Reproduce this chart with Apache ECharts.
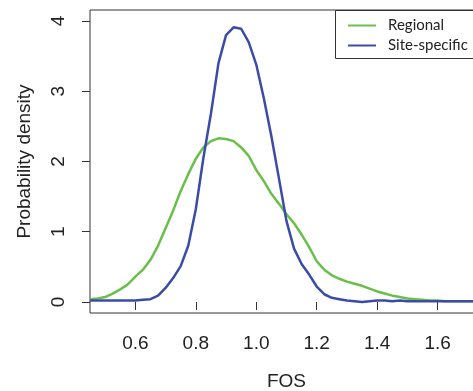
<!DOCTYPE html>
<html>
<head>
<meta charset="utf-8">
<script src="https://cdn.jsdelivr.net/npm/echarts@6/dist/echarts.min.js"></script>
<style>
  html, body { margin: 0; padding: 0; background: #fff; }
  #chart { width: 473px; height: 391px; }
</style>
</head>
<body>
<div id="chart"></div>
<script>
// FOS grid (step 0.025)
const fos = [];
for (let i = 0; i <= 51; i++) fos.push(+(0.45 + i * 0.025).toFixed(3));

const regional = [
  0.04, 0.05, 0.07, 0.12, 0.18, 0.25, 0.36, 0.46, 0.60, 0.80,
  1.05, 1.30, 1.58, 1.82, 2.04, 2.20, 2.29, 2.33, 2.32, 2.29,
  2.20, 2.08, 1.88, 1.72, 1.54, 1.40, 1.25, 1.12, 0.96, 0.78,
  0.58, 0.46, 0.38, 0.33, 0.29, 0.26, 0.23, 0.19, 0.15, 0.12,
  0.09, 0.07, 0.05, 0.04, 0.03, 0.02, 0.02, 0.01, 0.01, 0.01,
  0.01, 0.01
];
const siteSpecific = [
  0.02, 0.02, 0.02, 0.02, 0.02, 0.02, 0.02, 0.03, 0.04, 0.09,
  0.20, 0.34, 0.51, 0.80, 1.32, 2.05, 2.68, 3.40, 3.80, 3.91,
  3.89, 3.70, 3.38, 2.90, 2.36, 1.76, 1.15, 0.76, 0.54, 0.39,
  0.22, 0.11, 0.06, 0.04, 0.02, 0.01, 0.00, 0.01, 0.02, 0.02,
  0.01, 0.02, 0.01, 0.01, 0.01, 0.01, 0.01, 0.01, 0.01, 0.01,
  0.01, 0.01
];
const xTicks = [0.6, 0.8, 1.0, 1.2, 1.4, 1.6];
const yTicks = [0, 1, 2, 3, 4];

const pair = (ys) => fos.map((x, i) => [x, ys[i]]);
const axisFont = { fontFamily: 'Liberation Sans', fontSize: 19, color: '#222' };

const chart = echarts.init(document.getElementById('chart'));
chart.setOption({
  animation: false,
  grid: {
    left: 90, top: 10, bottom: 78, right: -10,
    outerBoundsMode: 'none', containLabel: false,
    show: true, borderColor: '#333', borderWidth: 1
  },
  // legend frame runs off the right edge, as in the cropped original
  graphic: [{
    type: 'rect', left: 335, top: 10, z: 10,
    shape: { width: 200, height: 48 },
    style: { fill: '#fff', stroke: '#333', lineWidth: 1 }
  }],
  legend: {
    left: 335, top: 10, z: 20,
    orient: 'vertical',
    padding: [8, 10, 8, 12],
    itemWidth: 28, itemHeight: 14, itemGap: 5,
    itemStyle: { opacity: 0 },
    textStyle: { fontFamily: 'Lato', fontSize: 15, color: '#222', padding: [0, 0, 0, 7] },
    data: ['Regional', 'Site-specific']
  },
  xAxis: {
    type: 'value',
    min: 0.45, max: 1.75,
    name: 'FOS', nameLocation: 'middle', nameGap: 59,
    nameTextStyle: axisFont,
    axisLine: { show: false },
    splitLine: { show: false },
    axisTick: { show: true, length: 8, lineStyle: { color: '#333' }, customValues: xTicks },
    axisLabel: Object.assign({ margin: 21, customValues: xTicks,
      formatter: v => v.toFixed(1) }, axisFont)
  },
  yAxis: {
    type: 'value',
    min: -0.157, max: 4.157,
    name: 'Probability density', nameLocation: 'middle', nameGap: 56,
    nameTextStyle: axisFont,
    axisLine: { show: false },
    splitLine: { show: false },
    axisTick: { show: true, length: 8, lineStyle: { color: '#333' }, customValues: yTicks },
    axisLabel: Object.assign({ margin: 22, rotate: 90, customValues: yTicks }, axisFont)
  },
  series: [
    {
      name: 'Regional', type: 'line', data: pair(regional),
      symbol: 'none', lineStyle: { color: '#6abf4b', width: 2.5 },
      itemStyle: { color: '#6abf4b' }
    },
    {
      name: 'Site-specific', type: 'line', data: pair(siteSpecific),
      symbol: 'none', lineStyle: { color: '#3a4ca8', width: 2.5 },
      itemStyle: { color: '#3a4ca8' }
    }
  ]
});
</script>
</body>
</html>
